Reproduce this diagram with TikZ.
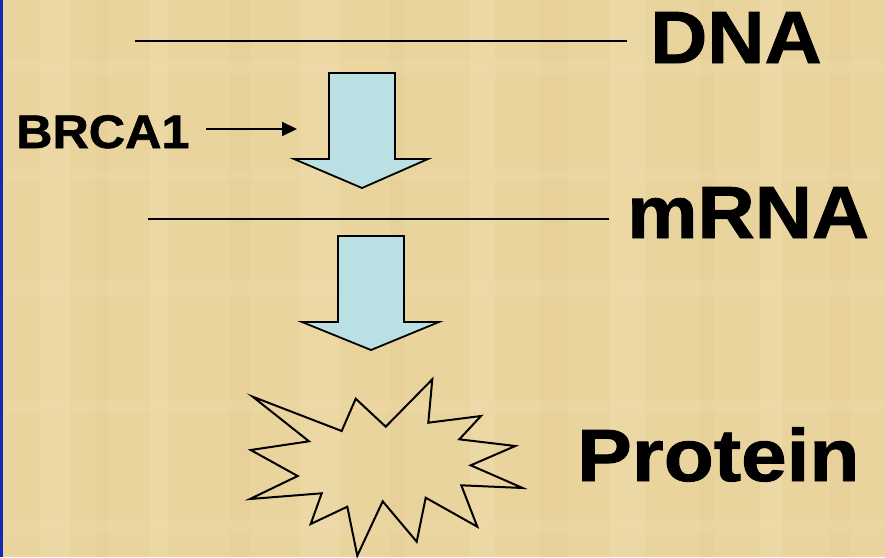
\documentclass[tikz,border=0pt]{standalone}
\usepackage{fontspec}
\setmainfont{Liberation Sans}
\newfontfamily\heavyfont[FakeBold=1.2, FakeStretch=1.07]{Liberation Sans Bold}
\usetikzlibrary{arrows.meta}
\definecolor{papyrus}{RGB}{234,212,158}
\definecolor{papyruslight}{RGB}{240,222,176}
\definecolor{papyrusdark}{RGB}{226,202,146}
\definecolor{edgeblue}{RGB}{20,40,180}
\definecolor{flowblue}{RGB}{187,224,228}
\tikzset{
  label big/.style={inner sep=0pt, anchor=base west, font=\fontsize{74}{80}\heavyfont},
  label small/.style={inner sep=0pt, anchor=base west, font=\fontsize{47}{52}\heavyfont},
  strand/.style={line width=2.3pt, black},
  flow arrow/.style={fill=flowblue, draw=black, line width=1.8pt, line join=miter},
  burst/.style={draw=black, line width=2pt, line join=miter},
  pointer/.style={line width=2.2pt, -{Triangle[length=15pt,width=14pt]}}
}
\begin{document}
\begin{tikzpicture}[x=1pt,y=-1pt]
  \useasboundingbox (0,0) rectangle (885,557);
  % papyrus ground with faint fibres
  \fill[papyrus] (0,0) rectangle (885,557);
  \foreach \x/\w in {40/30,150/18,300/40,470/25,610/35,760/22} {
    \fill[papyruslight, opacity=0.4] (\x,0) rectangle (\x+\w,557);
  }
  \foreach \x/\w in {95/12,230/20,390/15,540/28,700/14,830/20} {
    \fill[papyrusdark, opacity=0.3] (\x,0) rectangle (\x+\w,557);
  }
  \foreach \y/\h in {60/14,170/10,280/16,400/12,520/14} {
    \fill[papyruslight, opacity=0.25] (0,\y) rectangle (885,\y+\h);
  }
  \fill[edgeblue] (0,0) rectangle (3,557);

  % labels
  \node[label big] (dna) at (650,63) {DNA};
  \node[label big] (mrna) at (627,238) {mRNA};
  \node[label big, xscale=1.035] (protein) at (577,481) {Protein};
  \node[label small] (brca) at (16,148) {BRCA1};

  % strands
  \coordinate (dnaL) at (135,41);
  \coordinate (dnaR) at (627,41);
  \coordinate (mrnaL) at (148,219);
  \coordinate (mrnaR) at (609,219);
  \draw[strand] (dnaL) -- (dnaR);
  \draw[strand] (mrnaL) -- (mrnaR);

  % transcription arrow
  \draw[flow arrow] (329,73) -- (395,73) -- (395,159) -- (428,159) -- (362,188)
    -- (294,159) -- (329,159) -- cycle;
  % translation arrow
  \draw[flow arrow] (338,236) -- (404,236) -- (404,322) -- (439,322) -- (371,350)
    -- (302,322) -- (338,322) -- cycle;

  % BRCA1 pointer
  \coordinate (brcaStart) at (206,129);
  \coordinate (brcaEnd) at (297,129);
  \draw[pointer] (brcaStart) -- (brcaEnd);

  % protein starburst
  \draw[burst] (252.7,396.7) -- (341.7,431) -- (355.7,398.7) -- (385.7,426.7)
    -- (432.3,379.3) -- (428.3,422.7) -- (481,416) -- (459.3,439.3)
    -- (515.3,446) -- (470.7,465.3) -- (522.7,488) -- (461.3,485.3)
    -- (477.3,526.7) -- (425.7,497.7) -- (416.7,541.7) -- (382.7,501.3)
    -- (357.3,555.7) -- (347.3,506.7) -- (310.7,524) -- (321.7,493.3)
    -- (250,499) -- (297.7,476) -- (250.7,450) -- (309,441.3) -- cycle;
\end{tikzpicture}
\end{document}
